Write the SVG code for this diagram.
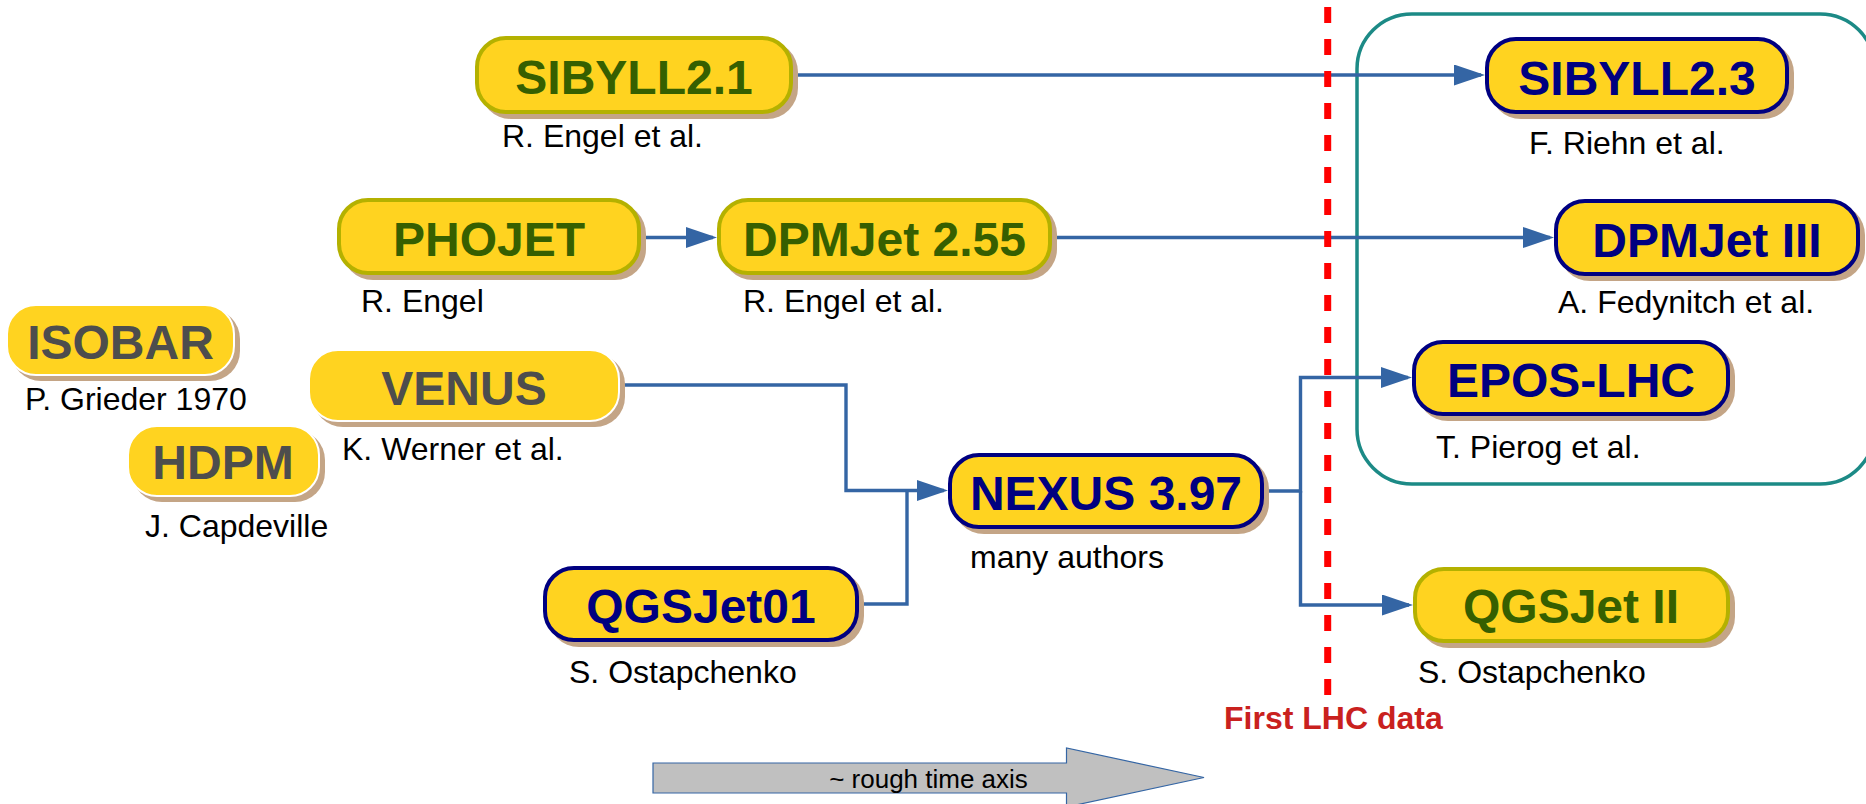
<svg xmlns="http://www.w3.org/2000/svg" width="1866" height="804" viewBox="0 0 1866 804">
  <style>
    .shadow { fill: #c4a586; }
    .box { fill: #ffd320; }
    .green { stroke: #b4b100; stroke-width: 4; }
    .navy { stroke: #000080; stroke-width: 4; }
    .plain { stroke: #ffffff; stroke-width: 2; }
    .label { font-family: "Liberation Sans", Arial, sans-serif; font-weight: bold; font-size: 48px; text-anchor: middle; }
    .lg { fill: #365f00; }
    .ln { fill: #000080; }
    .lp { fill: #4d4d4d; }
    .author { font-family: "Liberation Sans", Arial, sans-serif; font-size: 32px; fill: #000000; }
    .conn { fill: none; stroke: #3465a4; stroke-width: 3.4; }
  </style>
  <defs>
    <marker id="arrow" markerUnits="userSpaceOnUse" markerWidth="31" markerHeight="21" refX="27" refY="10.5" orient="auto">
      <path d="M0,0 L31,10.5 L0,21 z" fill="#3465a4"/>
    </marker>
  </defs>

  <rect width="1866" height="804" fill="#ffffff"/>

  <!-- post-LHC frame -->
  <rect id="lhc-frame" x="1357" y="14" width="518" height="470" rx="55" fill="none" stroke="#1c8a86" stroke-width="3.5"/>

  <!-- connectors -->
  <g id="connectors">
    <path class="conn" d="M793,75 H1481" marker-end="url(#arrow)"/>
    <path class="conn" d="M641,237.5 H713" marker-end="url(#arrow)"/>
    <path class="conn" d="M1052,237.5 H1550" marker-end="url(#arrow)"/>
    <path class="conn" d="M620,385 H846 V490.5 H944" marker-end="url(#arrow)"/>
    <path class="conn" d="M859,604 H907 V490.5"/>
    <path class="conn" d="M1264,491 H1300.5 V377.5 H1408" marker-end="url(#arrow)"/>
    <path class="conn" d="M1300.5,491 V605 H1409" marker-end="url(#arrow)"/>
  </g>

  <!-- first LHC data marker -->
  <g id="lhc-line">
    <line x1="1327.7" y1="7" x2="1327.7" y2="697" stroke="#ff0000" stroke-width="7" stroke-dasharray="16 16"/>
    <text x="1224" y="729" font-family="Liberation Sans, Arial, sans-serif" font-weight="bold" font-size="32" fill="#c9211e">First LHC data</text>
  </g>

  <!-- models -->
  <g id="sibyll21">
    <rect class="shadow" x="480" y="41" width="318" height="78" rx="31"/>
    <rect class="box green" x="477" y="38" width="314" height="74" rx="29"/>
    <text class="label lg" x="634" y="94">SIBYLL2.1</text>
    <text class="author" x="502" y="147">R. Engel et al.</text>
  </g>

  <g id="phojet">
    <rect class="shadow" x="342" y="203" width="304" height="77" rx="31"/>
    <rect class="box green" x="339" y="200" width="300" height="73" rx="29"/>
    <text class="label lg" x="489" y="256">PHOJET</text>
    <text class="author" x="361" y="312">R. Engel</text>
  </g>

  <g id="dpmjet255">
    <rect class="shadow" x="722" y="203" width="335" height="77" rx="31"/>
    <rect class="box green" x="719" y="200" width="331" height="73" rx="29"/>
    <text class="label lg" x="884.5" y="256">DPMJet 2.55</text>
    <text class="author" x="743" y="312">R. Engel et al.</text>
  </g>

  <g id="isobar">
    <rect class="shadow" x="11" y="309" width="229" height="72" rx="30"/>
    <rect class="box plain" x="7" y="305" width="227" height="70" rx="29"/>
    <text class="label lp" x="120.5" y="359">ISOBAR</text>
    <text class="author" x="25" y="410">P. Grieder 1970</text>
  </g>

  <g id="venus">
    <rect class="shadow" x="313" y="354" width="312" height="73" rx="30"/>
    <rect class="box plain" x="309" y="350" width="310" height="71" rx="29"/>
    <text class="label lp" x="464" y="405">VENUS</text>
    <text class="author" x="342" y="460">K. Werner et al.</text>
  </g>

  <g id="hdpm">
    <rect class="shadow" x="132" y="430" width="193" height="72" rx="30"/>
    <rect class="box plain" x="128" y="426" width="191" height="70" rx="29"/>
    <text class="label lp" x="223" y="479">HDPM</text>
    <text class="author" x="145" y="537">J. Capdeville</text>
  </g>

  <g id="nexus">
    <rect class="shadow" x="953" y="458" width="316" height="76" rx="31"/>
    <rect class="box navy" x="950" y="455" width="312" height="72" rx="29"/>
    <text class="label ln" x="1106" y="510">NEXUS 3.97</text>
    <text class="author" x="970" y="568">many authors</text>
  </g>

  <g id="qgsjet01">
    <rect class="shadow" x="548" y="571" width="316" height="76" rx="31"/>
    <rect class="box navy" x="545" y="568" width="312" height="72" rx="29"/>
    <text class="label ln" x="701" y="623">QGSJet01</text>
    <text class="author" x="569" y="683">S. Ostapchenko</text>
  </g>

  <g id="sibyll23">
    <rect class="shadow" x="1490" y="42" width="304" height="77" rx="31"/>
    <rect class="box navy" x="1487" y="39" width="300" height="73" rx="29"/>
    <text class="label ln" x="1637" y="95">SIBYLL2.3</text>
    <text class="author" x="1529" y="154">F. Riehn et al.</text>
  </g>

  <g id="dpmjet3">
    <rect class="shadow" x="1559" y="204" width="306" height="77" rx="31"/>
    <rect class="box navy" x="1556" y="201" width="302" height="73" rx="29"/>
    <text class="label ln" x="1707" y="257">DPMJet III</text>
    <text class="author" x="1558" y="313">A. Fedynitch et al.</text>
  </g>

  <g id="epos-lhc">
    <rect class="shadow" x="1417" y="345" width="318" height="76" rx="31"/>
    <rect class="box navy" x="1414" y="342" width="314" height="72" rx="29"/>
    <text class="label ln" x="1571" y="397">EPOS-LHC</text>
    <text class="author" x="1436" y="458">T. Pierog et al.</text>
  </g>

  <g id="qgsjet2">
    <rect class="shadow" x="1418" y="572" width="317" height="76" rx="31"/>
    <rect class="box green" x="1415" y="569" width="313" height="72" rx="29"/>
    <text class="label lg" x="1571" y="623">QGSJet II</text>
    <text class="author" x="1418" y="683">S. Ostapchenko</text>
  </g>

  <!-- time axis -->
  <g id="time-axis">
    <path d="M653,763 H1066.5 V748 L1204,777.5 L1066.5,807 V793 H653 z" fill="#c0c0c0" stroke="#3465a4" stroke-width="1.2"/>
    <text x="928.5" y="788" font-family="Liberation Sans, Arial, sans-serif" font-size="26" text-anchor="middle" fill="#000000">~ rough time axis</text>
  </g>
</svg>
